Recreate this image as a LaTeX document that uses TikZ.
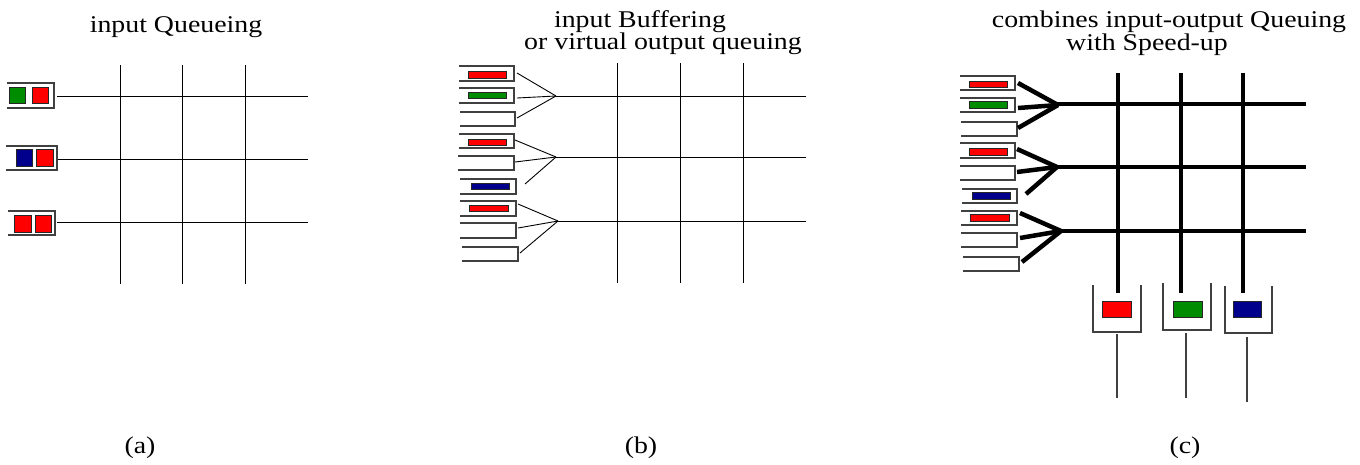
\documentclass[tikz,border=0pt]{standalone}
\usepackage{fontspec}
\setmainfont{Liberation Serif}
\definecolor{pktred}{RGB}{255,0,0}
\definecolor{pktgreen}{RGB}{0,140,0}
\definecolor{pktblue}{RGB}{0,0,140}
\tikzset{
  wire/.style={line width=0.9pt, black},
  fatwire/.style={line width=4.5pt, black},
  qline/.style={line width=1.1pt, black!75},
  pkt/.style={draw=black!85, line width=0.8pt},
  label/.style={font=\fontsize{24}{26}\selectfont, anchor=base, xscale=1.16, inner sep=0pt},
}
\begin{document}
\begin{tikzpicture}[x=1pt, y=-1pt]
\useasboundingbox (0,0) rectangle (1360,464);

% ---------- (a) input queueing ----------
\node[label] (ta) at (176,32) {input Queueing};
\foreach \y in {96,159,222} \draw[wire] (57,\y) -- (308,\y);
\foreach \x in {120,182,245} \draw[wire] (\x,65) -- (\x,284);
% queues, open on the left
\draw[qline] (7,83) -- (54,83) -- (54,108) -- (7,108);
\draw[pkt, fill=pktgreen] (9.5,87) rectangle (25.5,103);
\draw[pkt, fill=pktred] (32,87) rectangle (48,103);
\draw[qline] (6,146) -- (57,146) -- (57,170) -- (6,170);
\draw[pkt, fill=pktblue] (16,149) rectangle (32,166);
\draw[pkt, fill=pktred] (36,149) rectangle (53,166);
\draw[qline] (8,211) -- (55,211) -- (55,235) -- (8,235);
\draw[pkt, fill=pktred] (14,215) rectangle (31,232);
\draw[pkt, fill=pktred] (35,215) rectangle (51,232);
\node[label] (la) at (140,453) {(a)};

% ---------- (b) virtual output queueing ----------
\node[label] (tb1) at (640,27) {input Buffering};
\node[label] (tb2) at (663,49) {or virtual output queuing};
\foreach \y in {96,157,221} \draw[wire] (555,\y) -- (806,\y);
\foreach \x in {617,680,743} \draw[wire] (\x,63) -- (\x,283);
\foreach \xa/\ya/\xb/\yb in {459/66/514/81, 459/88/514/103, 460/112/515/126,
    459/134/514/148, 458/156/514/170, 460/179/516/194,
    460/201/516/216, 460/223/516/238, 462/247/518/261}
  \draw[qline] (\xa,\ya) -- (\xb,\ya) -- (\xb,\yb) -- (\xa,\yb);
\foreach \xa/\ya/\xb/\yb/\c in {468/71/506/78/pktred, 468/92/506/98/pktgreen,
    468/139/506/145/pktred, 471/183/509/189/pktblue, 469/205/508/211/pktred}
  \draw[pkt, fill=\c] (\xa,\ya) rectangle (\xb,\yb);
\coordinate (jb1) at (556,96);
\coordinate (jb2) at (556,157);
\coordinate (jb3) at (558,221);
\foreach \x/\y/\j in {517/73/jb1, 517/98/jb1, 517/118/jb1,
    515/140/jb2, 515/162/jb2, 525/184/jb2,
    518/204/jb3, 518/228/jb3, 520/253/jb3}
  \draw[wire] (\x,\y) -- (\j);
\node[label] (lb) at (641,453) {(b)};

% ---------- (c) combined input-output queueing ----------
\node[label] (tc1) at (1169,27) {combines input-output Queuing};
\node[label] (tc2) at (1147,50) {with Speed-up};
\foreach \y in {104,167,231} \draw[fatwire] (1056,\y) -- (1306,\y);
\foreach \x in {1118,1181,1243} \draw[fatwire] (\x,73) -- (\x,293);
\foreach \xa/\ya/\xb/\yb in {960/76/1015/90, 960/98/1015/112, 961/122/1017/136,
    960/143/1015/158, 960/166/1015/180, 962/189/1017/203,
    961/211/1017/225, 961/233/1017/247, 963/257/1019/271}
  \draw[qline] (\xa,\ya) -- (\xb,\ya) -- (\xb,\yb) -- (\xa,\yb);
\foreach \xa/\ya/\xb/\yb/\c in {969/81/1007/87/pktred, 969/101/1007/108/pktgreen,
    969/148/1007/155/pktred, 972/192/1010/199/pktblue, 970/214/1009/221/pktred}
  \draw[pkt, fill=\c] (\xa,\ya) rectangle (\xb,\yb);
\coordinate (jc1) at (1058,105);
\coordinate (jc2) at (1057,167);
\coordinate (jc3) at (1061,231);
\foreach \x/\y/\j in {1018/83/jc1, 1018/108/jc1, 1018/128/jc1,
    1017/149/jc2, 1017/172/jc2, 1026/194/jc2,
    1020/213/jc3, 1020/238/jc3, 1022/262/jc3}
  \draw[fatwire] (\x,\y) -- (\j);
% output queues, open at the top
\draw[qline] (1093,285) -- (1093,332) -- (1141,332) -- (1141,285);
\draw[pkt, fill=pktred] (1102,301) rectangle (1131,317);
\draw[qline] (1117,334) -- (1117,398);
\draw[qline] (1163,283) -- (1163,330) -- (1211,330) -- (1211,283);
\draw[pkt, fill=pktgreen] (1173,301) rectangle (1202,317);
\draw[qline] (1186,333) -- (1186,398);
\draw[qline] (1225,286) -- (1225,333) -- (1272,333) -- (1272,286);
\draw[pkt, fill=pktblue] (1233,301) rectangle (1261,317);
\draw[qline] (1247,337) -- (1247,402);
\node[label] (lc) at (1185,453) {(c)};
\end{tikzpicture}
\end{document}
